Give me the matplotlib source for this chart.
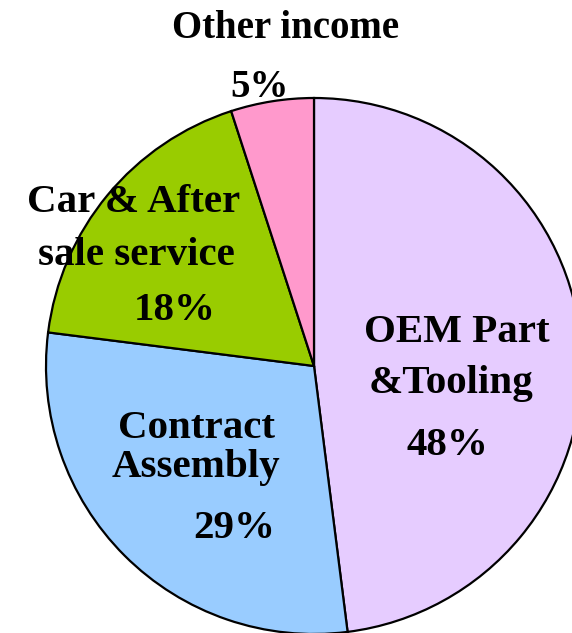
import matplotlib
matplotlib.use("Agg")
import matplotlib.pyplot as plt

# slices, clockwise from 12 o'clock
categories = ["OEM Part\n&Tooling", "Contract\nAssembly", "Car & After\nsale service", "Other income"]
shares = [48, 29, 18, 5]
colors = ["#E6CCFF", "#99CCFF", "#99CC00", "#FF99CC"]

W, H = 572, 633

fig = plt.figure(figsize=(W / 100, H / 100), dpi=100)
ax = fig.add_axes([0, 0, 1, 1])

ax.pie(shares, colors=colors, startangle=90, counterclock=False,
       center=(314, H - 366), radius=268,
       wedgeprops=dict(edgecolor="black", linewidth=1.6))
ax.set_xlim(0, W)
ax.set_ylim(0, H)
ax.set_aspect("equal")
ax.axis("off")


def put(s, x, y, size=29.5):
    # y measured from the top of the image
    ax.text(x, H - y, s, family="Liberation Serif", weight="bold", size=size,
            ha="center", va="baseline")

# label lines: text, x centre, baseline from top
put("Other income", 286, 38, 28)
put("5%", 259, 97, 28)

put("Car & After", 134, 212)
put("sale service", 136, 265)
put("18%", 175, 320)

put("Contract", 196, 438)
put("Assembly", 196, 477)
put("29%", 234, 538)

put("OEM Part", 457, 342)
put("&Tooling", 451, 393)
put("48%", 447, 455)

fig.savefig("out.png", dpi=100)
